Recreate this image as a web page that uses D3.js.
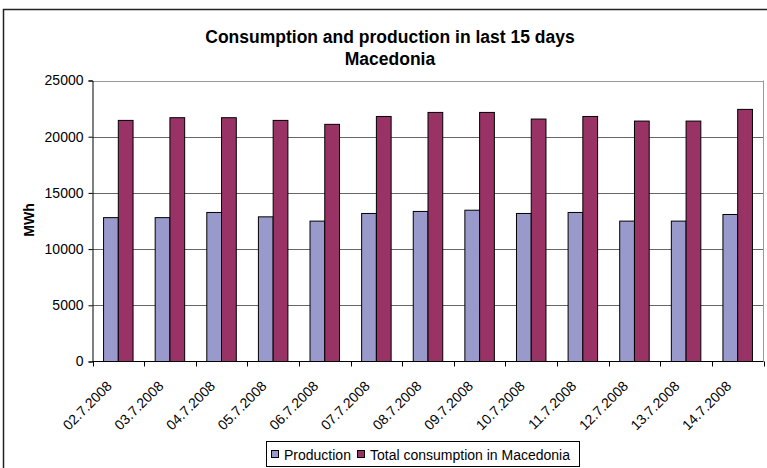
<!DOCTYPE html>
<html>
<head>
<meta charset="utf-8">
<script src="https://cdn.jsdelivr.net/npm/d3@7/dist/d3.min.js"></script>
<style>
  html, body { margin: 0; padding: 0; background: #fff; }
  svg { display: block; font-family: "Liberation Sans", Arial, sans-serif; }
</style>
</head>
<body>
<svg id="chart" width="767" height="468"></svg>
<script>
// Daily figures in MWh
const dates = ["02.7.2008", "03.7.2008", "04.7.2008", "05.7.2008", "06.7.2008", "07.7.2008",
               "08.7.2008", "09.7.2008", "10.7.2008", "11.7.2008", "12.7.2008", "13.7.2008", "14.7.2008"];
const production = [12800, 12800, 13260, 12870, 12490, 13170, 13350, 13460, 13170, 13260, 12490, 12490, 13080];
const consumption = [21450, 21690, 21690, 21450, 21100, 21800, 22160, 22160, 21570, 21800, 21390, 21390, 22430];
const seriesNames = ["Production", "Total consumption in Macedonia"];
const yTicks = [0, 5000, 10000, 15000, 20000, 25000];

const colors = ["#9999cc", "#993366"];
const svg = d3.select("#chart");

// Outer chart frame
svg.append("rect")
  .attr("x", 3.5).attr("y", 9.5)
  .attr("width", 780).attr("height", 480)
  .attr("fill", "#fff").attr("stroke", "#222").attr("stroke-width", 1.5);

const plot = { left: 92.5, top: 80.5, right: 763.5, bottom: 361.5 };

const x = d3.scaleBand().domain(dates).range([plot.left, plot.right]);
const inner = d3.scaleBand().domain([0, 1])
  .range([0, x.bandwidth()]).paddingInner(0).paddingOuter(0.75);
const y = d3.scaleLinear().domain([0, 25000]).range([plot.bottom, plot.top]);

// Title
const title = svg.append("text")
  .attr("text-anchor", "middle")
  .attr("font-weight", "bold").attr("font-size", 17.5).attr("fill", "#000");
title.append("tspan").attr("x", 390).attr("y", 43).text("Consumption and production in last 15 days");
title.append("tspan").attr("x", 390).attr("y", 65).text("Macedonia");

// Gridlines
svg.append("g")
  .selectAll("line")
  .data(yTicks.filter(d => d > 0))
  .join("line")
  .attr("x1", plot.left).attr("x2", plot.right)
  .attr("y1", d => Math.round(y(d)) + 0.5).attr("y2", d => Math.round(y(d)) + 0.5)
  .attr("stroke", d => d === 25000 ? "#999" : "#666").attr("stroke-width", 1);

// Plot area right edge
svg.append("line")
  .attr("x1", plot.right).attr("x2", plot.right)
  .attr("y1", plot.top).attr("y2", plot.bottom)
  .attr("stroke", "#999");

// Bars
const groups = svg.append("g")
  .selectAll("g")
  .data(dates)
  .join("g")
  .attr("transform", d => `translate(${x(d)},0)`);

groups.selectAll("rect")
  .data((d, i) => [production[i], consumption[i]])
  .join("rect")
  .attr("x", (v, j) => inner(j))
  .attr("width", inner.bandwidth())
  .attr("y", v => y(v))
  .attr("height", v => plot.bottom - y(v))
  .attr("fill", (v, j) => colors[j])
  .attr("stroke", "#000").attr("stroke-width", 1);

// Y axis
const yAxis = svg.append("g")
  .attr("transform", `translate(${plot.left},0)`)
  .call(d3.axisLeft(y).tickValues(yTicks).tickSize(4).tickPadding(5).tickFormat(d3.format("d")));
yAxis.select(".domain").attr("stroke", "#000");
yAxis.selectAll(".tick line").attr("stroke", "#000");
yAxis.selectAll("text").attr("font-size", 14).attr("fill", "#000")
  .attr("font-family", "'Liberation Sans', Arial, sans-serif");

// X axis with tick marks at category boundaries
const xAxisG = svg.append("g").attr("transform", `translate(0,${plot.bottom})`);
xAxisG.append("line")
  .attr("x1", plot.left).attr("x2", plot.right)
  .attr("stroke", "#000");
xAxisG.selectAll("line.tk")
  .data(dates.concat(["end"]))
  .join("line")
  .attr("class", "tk")
  .attr("x1", (d, i) => Math.round(plot.left + i * x.step()) + 0.5)
  .attr("x2", (d, i) => Math.round(plot.left + i * x.step()) + 0.5)
  .attr("y1", 0).attr("y2", 5)
  .attr("stroke", "#000");

xAxisG.selectAll("text")
  .data(dates)
  .join("text")
  .attr("transform", d => `translate(${x(d) + x.bandwidth() / 2 - 9},${22}) rotate(-45)`)
  .attr("text-anchor", "end")
  .attr("dy", "0.35em")
  .attr("font-size", 14).attr("fill", "#000")
  .text(d => d);

// Y axis title
svg.append("text")
  .attr("transform", "translate(34,220) rotate(-90)")
  .attr("text-anchor", "middle")
  .attr("font-weight", "bold").attr("font-size", 14)
  .text("MWh");

// Legend
const legend = svg.append("g");
legend.append("rect")
  .attr("x", 266.5).attr("y", 441.5).attr("width", 313).attr("height", 25)
  .attr("fill", "#fff").attr("stroke", "#000");
const legendItems = [{ x: 271, tx: 284 }, { x: 357, tx: 370 }];
legendItems.forEach((it, i) => {
  legend.append("rect")
    .attr("x", it.x + 0.5).attr("y", 450.5).attr("width", 7).attr("height", 7)
    .attr("fill", colors[i]).attr("stroke", "#000");
  legend.append("text")
    .attr("x", it.tx).attr("y", 459.5)
    .attr("font-size", 14).attr("fill", "#000")
    .text(seriesNames[i]);
});
</script>
</body>
</html>
